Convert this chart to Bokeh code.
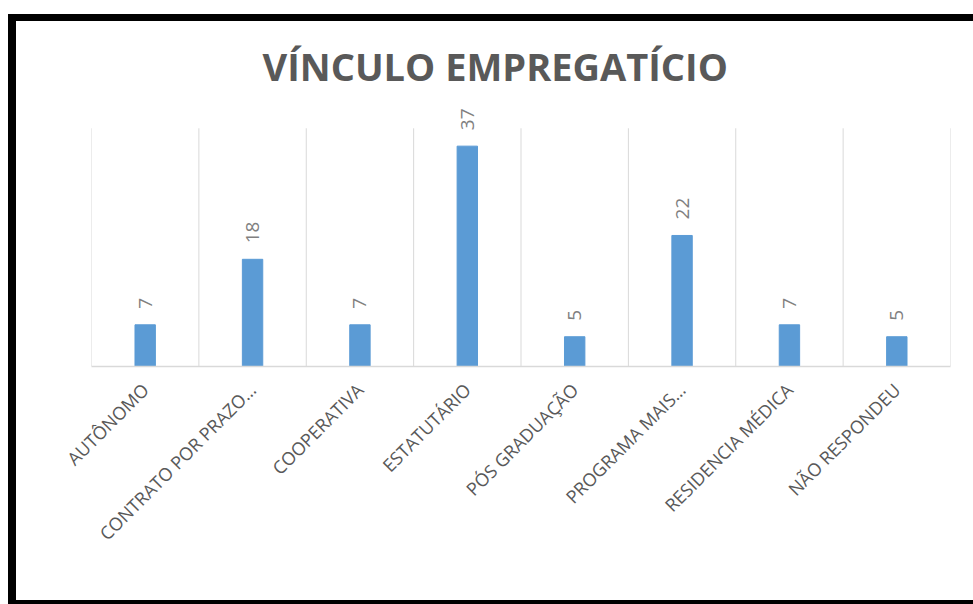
from math import pi
from bokeh.plotting import figure
from bokeh.models import FactorRange, Range1d, ColumnDataSource, LabelSet
from bokeh.core.properties import value
from bokeh.embed import file_html
from bokeh.resources import INLINE

title_text = "VÍNCULO EMPREGATÍCIO"
categories = ["AUTÔNOMO", "CONTRATO POR PRAZO…", "COOPERATIVA", "ESTATUTÁRIO",
              "PÓS GRADUAÇÃO", "PROGRAMA MAIS…", "RESIDENCIA MÉDICA", "NÃO RESPONDEU"]
counts = [7, 18, 7, 37, 5, 22, 7, 5]
y_max = 40          # top of the value axis (gridlines end here)
y_view = 45         # extra headroom so the value labels are not clipped

src = ColumnDataSource(dict(cat=categories, val=counts, lab=[str(v) for v in counts]))
bounds = list(range(len(categories) + 1))
grid_src = ColumnDataSource(dict(x=bounds, y0=[0] * len(bounds), y1=[y_max] * len(bounds)))

p = figure(x_range=FactorRange(*categories), y_range=Range1d(0, y_view),
           width=965, height=593, output_backend="svg", toolbar_location=None,
           min_border_left=75, min_border_right=31, min_border_top=77, min_border_bottom=248)
p.styles = {"margin-left": "8px", "margin-top": "14px",
            "border-left": "8px solid black", "border-top": "7px solid black",
            "border-bottom": "7px solid black"}

p.title.text = title_text
p.title.align = "left"
p.title.offset = 171
p.title.standoff = 14
p.title.text_font = "Open Sans"
p.title.text_font_size = "38px"
p.title.text_font_style = "bold"
p.title.text_color = "#595959"

p.outline_line_color = None
p.background_fill_color = "white"
p.border_fill_color = "white"
p.grid.visible = False
p.yaxis.visible = False

p.segment(x0="x", y0="y0", x1="x", y1="y1", source=grid_src,
          line_color="#d9d9d9", line_width=1)

p.vbar(x="cat", top="val", width=0.19, bottom=0, source=src,
       fill_color="#5b9bd5", line_color="#5b9bd5")

labels = LabelSet(x="cat", y="val", text="lab", source=src, angle=pi / 2,
                  text_align="left", text_baseline="middle", y_offset=16,
                  text_font=value("Open Sans"), text_font_size=value("19px"),
                  text_color="#808080")
p.add_layout(labels)

ax = p.xaxis[0]
ax.axis_line_color = "#d9d9d9"
ax.axis_line_width = 1.5
ax.major_tick_line_color = None
ax.minor_tick_line_color = None
ax.major_label_orientation = pi / 4
ax.major_label_standoff = 14
ax.major_label_text_font = "Open Sans"
ax.major_label_text_font_size = "18px"
ax.major_label_text_color = "#595959"

open("out.html", "w").write(file_html(p, INLINE))
